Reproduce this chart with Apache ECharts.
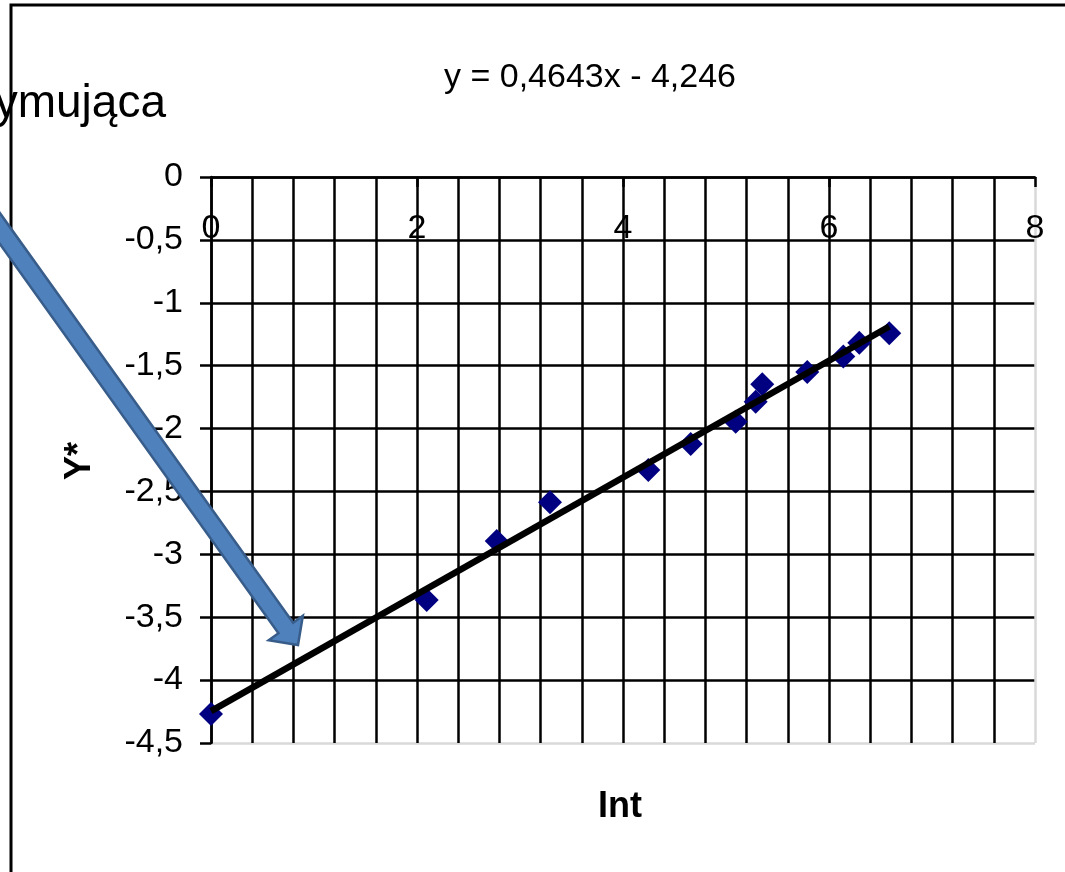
<!DOCTYPE html>
<html>
<head>
<meta charset="utf-8">
<script src="https://cdn.jsdelivr.net/npm/echarts@6/dist/echarts.min.js"></script>
<style>html,body{margin:0;padding:0;background:#fff}#c{width:1065px;height:872px}</style>
</head>
<body>
<div id="c"></div>
<script>
// Data
const xValues = [0, 2.094, 2.774, 3.291, 4.246, 4.657, 5.094, 5.288, 5.352, 5.789, 6.139, 6.294, 6.585];
const yValues = [-4.27, -3.363, -2.894, -2.585, -2.329, -2.122, -1.945, -1.786, -1.648, -1.550, -1.428, -1.317, -1.242];
const trendSlope = 0.4643;
const trendIntercept = -4.246;
const equationText = 'y = 0,4643x - 4,246';
const xAxisTitle = 'Int';
const yAxisTitle = 'Y*';
const noteText = 'ymująca';

const points = xValues.map((x, i) => [x, yValues[i]]);
const xMaxData = Math.max.apply(null, xValues);
const trend = [[0, trendIntercept], [xMaxData, trendSlope * xMaxData + trendIntercept]];

const fmt = v => String(v).replace('.', ',');
const FONT = '"Liberation Sans", Arial, sans-serif';

// Arrow annotation geometry (decoration)
function arrowPoints() {
  const T = [298, 645];
  let ux = 0.582, uy = 0.813;
  const len = Math.hypot(ux, uy); ux /= len; uy /= len;
  const nx = -uy, ny = ux;
  const L = 600, h = 21, hw = 21, sw = 9;
  const S = [T[0] - ux * L, T[1] - uy * L];
  const B = [T[0] - ux * h, T[1] - uy * h];
  return [
    [S[0] + nx * sw, S[1] + ny * sw],
    [B[0] + nx * sw, B[1] + ny * sw],
    [B[0] + nx * hw, B[1] + ny * hw],
    T,
    [B[0] - nx * hw, B[1] - ny * hw],
    [B[0] - nx * sw, B[1] - ny * sw],
    [S[0] - nx * sw, S[1] - ny * sw]
  ];
}

const chart = echarts.init(document.getElementById('c'), null, {renderer: 'canvas'});
const ySplitColors = ['#d9d9d9', '#000', '#000', '#000', '#000', '#000', '#000', '#000', '#000', '#000'];
chart.setOption({
  animation: false,
  backgroundColor: '#fff',
  grid: {left: 211, right: 30, top: 177, bottom: 129},
  xAxis: {
    type: 'value', position: 'top', min: 0, max: 8, interval: 2,
    axisLine: {show: true, onZero: false, lineStyle: {color: '#000', width: 2.5}},
    axisTick: {show: true, inside: true, length: 10, lineStyle: {color: '#000', width: 2.5}},
    axisLabel: {show: true, inside: true, margin: 35, color: '#000', fontSize: 34, fontFamily: FONT,
      formatter: fmt, showMinLabel: true, showMaxLabel: true},
    splitLine: {show: true, lineStyle: {color: ['#000', '#000', '#000', '#000', '#d9d9d9'], width: 2.5}},
    minorTick: {show: false, splitNumber: 5},
    minorSplitLine: {show: true, lineStyle: {color: '#000', width: 2.5}}
  },
  yAxis: {
    type: 'value', min: -4.5, max: 0, interval: 0.5,
    axisLine: {show: true, onZero: false, lineStyle: {color: '#000', width: 2.5}},
    axisTick: {show: true, inside: false, length: 11, lineStyle: {color: '#000', width: 2.5}},
    axisLabel: {show: true, margin: 28, color: '#000', fontSize: 34, fontFamily: FONT, formatter: fmt},
    splitLine: {show: true, lineStyle: {color: ySplitColors, width: 2.5}}
  },
  series: [
    {
      type: 'scatter', data: points, symbol: 'diamond', symbolSize: 24,
      itemStyle: {color: '#000080', opacity: 1}, z: 3
    },
    {
      type: 'line', data: trend, symbol: 'none', silent: true,
      lineStyle: {color: '#000', width: 6.5}, z: 4
    }
  ],
  graphic: [
    {type: 'rect', shape: {x: 11, y: 5, width: 1200, height: 1000}, style: {fill: 'none', stroke: '#000', lineWidth: 3}, z: -10, silent: true},
    {type: 'text', x: 590, y: 95, style: {text: equationText, font: '34px ' + FONT, fill: '#000', textAlign: 'center', textVerticalAlign: 'bottom'}, z: 10},
    {type: 'text', x: 166, y: 104, style: {text: noteText, font: '46px ' + FONT, fill: '#000', textAlign: 'right', textVerticalAlign: 'middle'}, z: 10},
    {type: 'text', x: 620, y: 807, style: {text: xAxisTitle, font: 'bold 36px ' + FONT, fill: '#000', textAlign: 'center', textVerticalAlign: 'middle'}, z: 10},
    {type: 'text', x: 80, y: 461, rotation: Math.PI / 2, style: {text: yAxisTitle, font: 'bold 36px ' + FONT, fill: '#000', textAlign: 'center', textVerticalAlign: 'middle'}, z: 10},
    {type: 'polygon', shape: {points: arrowPoints()}, style: {fill: '#4F81BD', stroke: '#385D8A', lineWidth: 2.5, lineJoin: 'miter'}, z: 100}
  ]
});
</script>
</body>
</html>
